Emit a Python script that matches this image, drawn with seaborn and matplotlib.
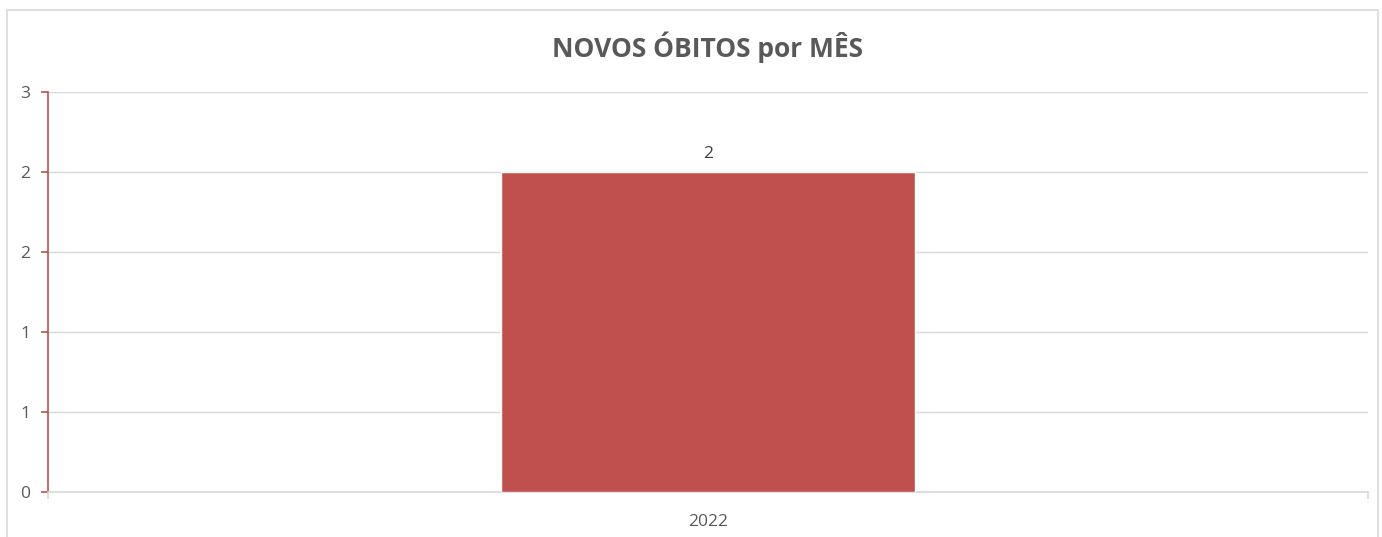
import numpy as np
import pandas as pd
import matplotlib
matplotlib.use('Agg')
import matplotlib.pyplot as plt
import seaborn as sns
from matplotlib.ticker import FuncFormatter, MultipleLocator
from matplotlib.patches import Rectangle

# data
categories = ['2022']
values = [2]
title = 'NOVOS ÓBITOS por MÊS'

df = pd.DataFrame({'ano': categories, 'obitos': values})

sns.set_style('white')
plt.rcParams['font.family'] = ['Open Sans', 'DejaVu Sans']

fig = plt.figure(figsize=(13.82, 5.37), dpi=100)
ax = fig.add_axes([48/1382, 1 - 492/537, 1320/1382, 400/537])

# outer chart border (like excel chart area)
fig.patches.append(Rectangle((7/1382, -0.01), 1371/1382, 1 - 10/537 + 0.01,
                             transform=fig.transFigure, fill=False,
                             edgecolor='#d9d9d9', linewidth=1.2))

sns.barplot(data=df, x='ano', y='obitos', color='#C0504D', width=0.314,
            saturation=1, ax=ax, zorder=3)

ax.bar_label(ax.containers[0], labels=[str(v) for v in values], padding=7,
             fontsize=12.5, color='#404040')

ax.set_ylim(0, 2.5)
ax.set_xlim(-0.5, 0.5)
ax.yaxis.set_major_locator(MultipleLocator(0.5))
# excel "0" number format rounds the half steps
ax.yaxis.set_major_formatter(FuncFormatter(lambda v, p: str(int(np.floor(v + 0.5)))))
ax.grid(axis='y', color='#d9d9d9', linewidth=1, zorder=0)
ax.set_axisbelow(True)

for s in ['top', 'right']:
    ax.spines[s].set_visible(False)
ax.spines['left'].set_color('#C0504D')
ax.spines['left'].set_linewidth(1.2)
ax.spines['bottom'].set_color('#d9d9d9')
ax.spines['bottom'].set_linewidth(1.2)

ax.tick_params(axis='y', left=True, length=5, width=1.2, color='#C0504D',
               labelsize=12.5, labelcolor='#595959', pad=8)
ax.tick_params(axis='x', bottom=False, labelsize=12.5, labelcolor='#595959', pad=12)
# small boundary ticks at the ends of the category axis
ax.set_xticks([-0.5, 0.5], minor=True)
ax.tick_params(axis='x', which='minor', bottom=True, length=5, width=1.2, color='#d9d9d9')

ax.set_xlabel('')
ax.set_ylabel('')
ax.set_title(title, fontsize=19, fontweight='bold', color='#595959', pad=25)

fig.savefig('out.png', dpi=100)
